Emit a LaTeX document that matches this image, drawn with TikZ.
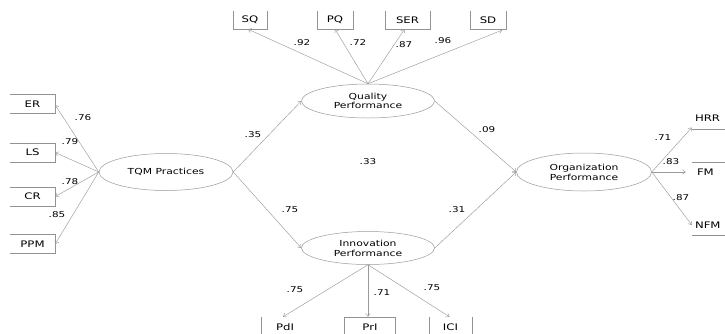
\documentclass[tikz,border=0pt]{standalone}
\usepackage{fontspec}
\newfontfamily\dgfont[FakeStretch=1.3]{DejaVu Sans}
\usetikzlibrary{arrows.meta,shapes.geometric}
\begin{document}
\begin{tikzpicture}[x=1pt,y=-1pt,
  every node/.style={font=\dgfont\fontsize{8}{9.5}\selectfont, text=black},
  lat/.style={ellipse, draw=gray!80, line width=0.5pt, inner sep=0pt, align=center, font=\dgfont\fontsize{8.3}{9.8}\selectfont},
  ind/.style={rectangle, inner sep=0pt, font=\dgfont\fontsize{9}{10}\selectfont},
  edge/.style={draw=gray!85, line width=0.6pt},
  arr/.style={draw=gray!80, line width=0.45pt, -{Straight Barb[length=3pt,width=4.5pt]}},
  lbl/.style={inner sep=0pt}]
\useasboundingbox (0,0) rectangle (725,333);
% latent variables
\node[lat, minimum width=134pt, minimum height=37pt] (tqm) at (166,172) {TQM Practices};
\node[lat, minimum width=133pt, minimum height=34pt] (qp) at (368,101) {Quality\\Performance};
\node[lat, minimum width=133pt, minimum height=33pt] (ip) at (368,248) {Innovation\\Performance};
\node[lat, minimum width=135pt, minimum height=38pt] (op) at (584,172) {Organization\\Performance};
% left indicators
\node[ind, minimum width=45pt, minimum height=19pt] (er) at (32.5,104) {ER};
\node[ind, minimum width=45pt, minimum height=19pt] (ls) at (32.5,152.5) {LS};
\node[ind, minimum width=45pt, minimum height=19pt] (cr) at (32.5,196.5) {CR};
\node[ind, minimum width=45pt, minimum height=19pt] (ppm) at (32.5,244) {PPM};
\foreach \n in {er,ls,cr,ppm}
  \draw[edge] (\n.north west) -- (\n.north east) -- (\n.south east) -- (\n.south west);
% top indicators
\node[ind, minimum width=34pt, minimum height=18pt] (sq) at (250,20) {SQ};
\node[ind, minimum width=36pt, minimum height=18pt] (pq) at (335,20) {PQ};
\node[ind, minimum width=45pt, minimum height=18pt] (ser) at (407.5,20) {SER};
\node[ind, minimum width=36pt, minimum height=18pt] (sd) at (488,20) {SD};
\foreach \n in {sq,pq,ser,sd}
  \draw[edge] (\n.north west) -- (\n.south west) -- (\n.south east) -- (\n.north east);
% bottom indicators
\node[ind, minimum width=48pt, minimum height=20pt] (pdi) at (285,327) {PdI};
\node[ind, minimum width=51pt, minimum height=20pt] (pri) at (370,327) {PrI};
\node[ind, minimum width=43pt, minimum height=20pt] (ici) at (450.5,327) {ICI};
\draw[edge] (pdi.north west) -- (pdi.south west);
\draw[edge] (pri.south west) -- (pri.north west) -- (pri.north east) -- (pri.south east);
\draw[edge] (ici.north west) -- (ici.south west);
\draw[edge] (ici.north east) -- (ici.south east);
% right indicators
\node[ind, minimum width=40pt, minimum height=21pt, text width=34pt, align=left] (hrr) at (712,118.5) {HRR};
\node[ind, minimum width=40pt, minimum height=20pt, text width=34pt, align=left] (fm) at (712,172) {\hspace*{2pt}FM};
\node[ind, minimum width=40pt, minimum height=21pt, text width=34pt, align=left] (nfm) at (712,225) {NFM};
\draw[edge] (hrr.south west) -- (hrr.south east);
\draw[edge] (fm.north west) -- (fm.north east);
\draw[edge] (nfm.south west) -- (nfm.south east);
% structural paths
\draw[arr] (tqm.east) -- (qp.west);
\draw[arr] (tqm.east) -- (ip.west);
\draw[arr] (qp.east) -- (op.west);
\draw[arr] (ip.east) -- (op.west);
% measurement paths
\draw[arr] (tqm.west) -- ([yshift=-1pt]er.east);
\draw[arr] (tqm.west) -- (ls.east);
\draw[arr] (tqm.west) -- (cr.east);
\draw[arr] (tqm.west) -- (ppm.east);
\draw[arr] (qp.north) -- ([xshift=-2pt]sq.south);
\draw[arr] (qp.north) -- (pq.south);
\draw[arr] (qp.north) -- ([xshift=-3pt]ser.south);
\draw[arr] (qp.north) -- ([xshift=14pt,yshift=-1pt]sd.south);
\draw[arr] (ip.south) -- ([xshift=-2pt]pdi.north);
\draw[arr] (ip.south) -- (ip.south |- pri.north);
\draw[arr] (ip.south) -- ([xshift=-1pt]ici.north);
\draw[arr] (op.east) -- ([yshift=-9pt]hrr.west);
\draw[arr] (op.east) -- ([xshift=-6pt]fm.west);
\draw[arr] (op.east) -- (nfm.west);
% coefficients
\node[lbl] (l1) at (83,118) {.76};
\node[lbl] (l2) at (70,142) {.79};
\node[lbl] (l3) at (70,182) {.78};
\node[lbl] (l4) at (57,215) {.85};
\node[lbl] (l5) at (302,43) {.92};
\node[lbl] (l6) at (358,43) {.72};
\node[lbl] (l7) at (404,45) {.87};
\node[lbl] (l8) at (443,41) {.96};
\node[lbl] (l9) at (253,135) {.35};
\node[lbl] (l10) at (487,130) {.09};
\node[lbl] (l11) at (368,162) {.33};
\node[lbl] (l12) at (290,210) {.75};
\node[lbl] (l13) at (457,210) {.31};
\node[lbl] (l14) at (295,290) {.75};
\node[lbl] (l15) at (382,293) {.71};
\node[lbl] (l16) at (432,288) {.75};
\node[lbl] (l17) at (663,138) {.71};
\node[lbl] (l18) at (671,162) {.83};
\node[lbl] (l19) at (681,198) {.87};
\end{tikzpicture}
\end{document}
